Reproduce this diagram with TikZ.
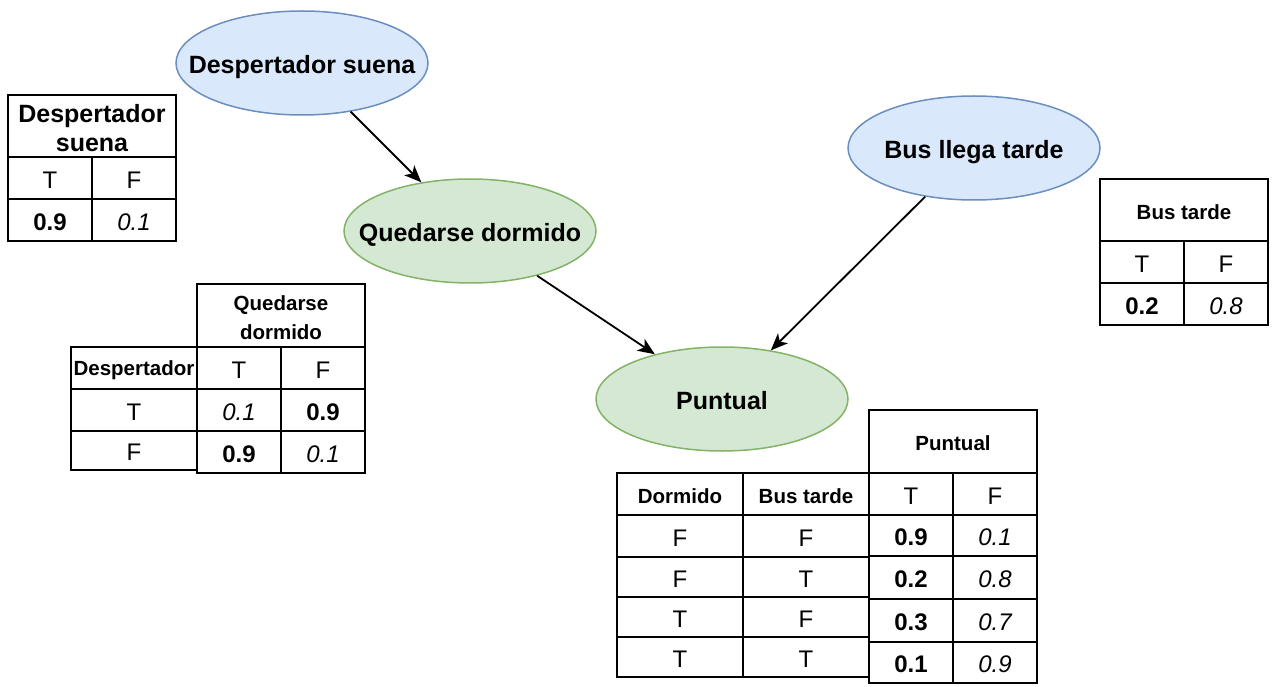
\documentclass[tikz,border=0pt]{standalone}
\usepackage{fontspec}
\setmainfont{Liberation Sans}
\usetikzlibrary{shapes.geometric,arrows.meta}
\definecolor{bfill}{HTML}{DAE8FC}
\definecolor{bline}{HTML}{6C8EBF}
\definecolor{gfill}{HTML}{D5E8D4}
\definecolor{gline}{HTML}{82B366}
\newcommand\bigf{\fontsize{24}{29}\selectfont}
\newcommand\hdf{\fontsize{25}{30}\selectfont\bfseries}
\newcommand\smf{\fontsize{20.5}{24.5}\selectfont\bfseries}
\newcommand\ellt[1]{\raisebox{-10.5pt}[0pt][0pt]{\makebox[0pt]{#1}}}
\newcommand\cellat[6]{\node[cell, minimum width={(#4-#2)*1pt}, minimum height={(#5-#3)*1pt}, label={[cellt]center:{#6}}] (#1) at ({(#2+#4)/2},{(#3+#5)/2}) {};}
\begin{document}
\begin{tikzpicture}[x=1pt,y=-1pt,
  cell/.style={draw=black, line width=2pt, fill=white, inner sep=0pt, outer sep=0pt},
  cellt/.style={align=center, font=\bigf, inner sep=0pt, yshift=-2pt},
  bnode/.style={ellipse, draw=bline, fill=bfill, line width=1.5pt, minimum width=252pt, minimum height=104pt, inner sep=0pt, font=\hdf},
  gnode/.style={ellipse, draw=gline, fill=gfill, line width=1.5pt, minimum width=252pt, minimum height=104pt, inner sep=0pt, font=\hdf},
  edge/.style={line width=1.8pt, -{Stealth[length=17pt,width=14pt,inset=4.5pt]}}]
\useasboundingbox (0,0) rectangle (1274,687);
% nodes
\node[bnode] (ds) at (302,63) {\ellt{Despertador suena}};
\node[bnode] (bl) at (974,148) {\ellt{Bus llega tarde}};
\node[gnode] (qd) at (470,231) {\ellt{Quedarse dormido}};
\node[gnode] (pu) at (722,399) {\ellt{Puntual}};
% edges
\draw[edge] (ds) -- (qd);
\draw[edge] (qd) -- (pu);
\draw[edge] (bl) -- (pu);
% table 1
\cellat{ta}{8}{95}{176}{157}{\hdf Despertador\\\hdf suena}
\cellat{tb}{8}{157}{92}{199}{T}
\cellat{tc}{92}{157}{176}{199}{F}
\cellat{td}{8}{199}{92}{241}{\bfseries 0.9}
\cellat{te}{92}{199}{176}{241}{\itshape 0.1}
% table 2 left
\cellat{qa}{71}{347}{197}{389}{\smf Despertador}
\cellat{qb}{71}{389}{197}{431}{T}
\cellat{qc}{71}{431}{197}{470}{F}
% table 2 right
\cellat{qh}{197}{284}{365}{347}{\smf Quedarse\\\smf dormido}
\cellat{qd1}{197}{347}{281}{389}{T}
\cellat{qd2}{281}{347}{365}{389}{F}
\cellat{qd3}{197}{389}{281}{431}{\itshape 0.1}
\cellat{qd4}{281}{389}{365}{431}{\bfseries 0.9}
\cellat{qd5}{197}{431}{281}{473}{\bfseries 0.9}
\cellat{qd6}{281}{431}{365}{473}{\itshape 0.1}
% table 3 left
\cellat{pa}{617}{473}{743}{515}{\smf Dormido}
\cellat{pb}{743}{473}{869}{515}{\smf Bus tarde}
\cellat{pc}{617}{515}{743}{557}{F}
\cellat{pd}{743}{515}{869}{557}{F}
\cellat{pe}{617}{557}{743}{597}{F}
\cellat{pf}{743}{557}{869}{597}{T}
\cellat{pg}{617}{597}{743}{637}{T}
\cellat{ph}{743}{597}{869}{637}{F}
\cellat{pi}{617}{637}{743}{677}{T}
\cellat{pj}{743}{637}{869}{677}{T}
% table 3 right
\cellat{ph0}{869}{410}{1037}{473}{\smf Puntual}
\cellat{pr1}{869}{473}{953}{515}{T}
\cellat{pr2}{953}{473}{1037}{515}{F}
\cellat{pr3}{869}{515}{953}{556}{\bfseries 0.9}
\cellat{pr4}{953}{515}{1037}{556}{\itshape 0.1}
\cellat{pr5}{869}{556}{953}{599}{\bfseries 0.2}
\cellat{pr6}{953}{556}{1037}{599}{\itshape 0.8}
\cellat{pr7}{869}{599}{953}{642}{\bfseries 0.3}
\cellat{pr8}{953}{599}{1037}{642}{\itshape 0.7}
\cellat{pr9}{869}{642}{953}{683}{\bfseries 0.1}
\cellat{pr10}{953}{642}{1037}{683}{\itshape 0.9}
% table 4
\cellat{ba}{1100}{179}{1268}{241}{\smf Bus tarde}
\cellat{bb}{1100}{241}{1184}{283}{T}
\cellat{bc}{1184}{241}{1268}{283}{F}
\cellat{bd}{1100}{283}{1184}{325}{\bfseries 0.2}
\cellat{be}{1184}{283}{1268}{325}{\itshape 0.8}
\end{tikzpicture}
\end{document}
